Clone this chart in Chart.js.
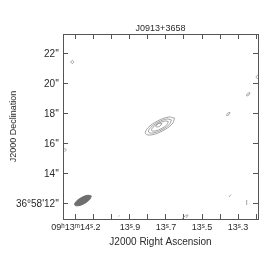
<!DOCTYPE html>
<html>
<head>
<meta charset="utf-8">
<script src="https://cdn.jsdelivr.net/npm/chart.js@4/dist/chart.umd.min.js"></script>
<style>
  html, body { margin: 0; padding: 0; background: #fff; }
  canvas { display: block; }
</style>
</head>
<body>
<canvas id="map" width="275" height="263"></canvas>
<script>
// AXES (RA seconds after 09h13m, Dec arcsec after 36d58m)
const raMin = 13.189, raMax = 14.272;
const decMin = 11.0, decMax = 23.33;
const raTicks = [14.2, 14.1, 14.0, 13.9, 13.8, 13.7, 13.6, 13.5, 13.4, 13.3, 13.2];
const raLabels = ["09ʰ13ᵐ14ˢ.2", "", "", "13ˢ.9", "", "13ˢ.7", "", "13ˢ.5", "", "13ˢ.3", ""];
const decTicks = [12, 14, 16, 18, 20, 22];
const decLabels = ["36°58'12''", "14''", "16''", "18''", "20''", "22''"];

// MAIN SOURCE CONTOURS [ra, dec]
const contour1 = [[13.652, 17.716], [13.666, 17.336], [13.719, 16.876], [13.780, 16.607], [13.814, 16.684], [13.801, 17.064], [13.748, 17.524], [13.686, 17.793], [13.652, 17.716]];
const contour2 = [[13.670, 17.607], [13.681, 17.313], [13.722, 16.953], [13.771, 16.738], [13.797, 16.793], [13.786, 17.087], [13.744, 17.447], [13.696, 17.662], [13.670, 17.607]];
const contour3 = [[13.687, 17.497], [13.695, 17.285], [13.726, 17.023], [13.761, 16.865], [13.780, 16.903], [13.772, 17.115], [13.741, 17.377], [13.706, 17.535], [13.687, 17.497]];
const contour4 = [[13.722, 17.376], [13.735, 17.179], [13.756, 17.157], [13.743, 17.355], [13.722, 17.376]];

// BEAM
const beam = [[14.115, 12.537], [14.123, 12.312], [14.152, 12.041], [14.187, 11.883], [14.207, 11.929], [14.200, 12.155], [14.170, 12.426], [14.135, 12.584], [14.115, 12.537]];

// NOISE BLOBS
const noise = [
  [[14.211, 21.467], [14.219, 21.367], [14.228, 21.467], [14.219, 21.567], [14.211, 21.467]],
  [[13.234, 19.42], [13.239, 19.267], [13.252, 19.207], [13.247, 19.36], [13.234, 19.42]],
  [[13.345, 18.107], [13.35, 17.953], [13.363, 17.893], [13.358, 18.047], [13.345, 18.107]],
  [[13.189, 20.6], [13.2, 20.467], [13.189, 20.333]],
  [[14.267, 15.7], [14.253, 15.613], [14.264, 15.5]],
  [[13.35, 12.467], [13.339, 12.633]],
  [[13.252, 12.267], [13.252, 11.933]],
  [[13.611, 11.0], [13.594, 11.2], [13.578, 11.267], [13.589, 11.067]],
  [[13.964, 11.18], [13.958, 11.22]]
];

const TEXT = "#2a2a2a";
const LINE = "#8a8a8a";
const FRAME = "#555";

function pts(arr) {
  return arr.map(p => ({ x: p[0], y: p[1] }));
}

function contourSet(arr, tension) {
  return {
    data: pts(arr),
    showLine: true,
    borderColor: LINE,
    borderWidth: 0.8,
    pointRadius: 0,
    tension: tension,
    fill: false
  };
}

const datasets = [
  contourSet(contour1, 0.4),
  contourSet(contour2, 0.4),
  contourSet(contour3, 0.4),
  contourSet(contour4, 0.4),
  {
    data: pts(beam),
    showLine: true,
    borderColor: "#6e6e6e",
    backgroundColor: "#6e6e6e",
    borderWidth: 1,
    pointRadius: 0,
    tension: 0.4,
    fill: "shape"
  },
  ...noise.map(n => contourSet(n, 0.4))
];

function setTicks(values) {
  return s => { s.ticks = values.map(v => ({ value: v })); };
}

const gridOpts = {
  display: true,
  drawOnChartArea: false,
  drawTicks: true,
  tickLength: -5,
  color: FRAME,
  lineWidth: 1
};

new Chart(document.getElementById("map"), {
  type: "scatter",
  data: { datasets },
  options: {
    responsive: false,
    animation: false,
    devicePixelRatio: 1,
    layout: { padding: 0 },
    plugins: {
      legend: { display: false },
      tooltip: { enabled: false },
      title: { display: false }
    },
    scales: {
      x: {
        type: "linear",
        position: "bottom",
        reverse: true,
        min: raMin,
        max: raMax,
        afterBuildTicks: setTicks(raTicks),
        afterFit: s => { s.height = 44; },
        grid: gridOpts,
        border: { display: true, color: FRAME, width: 1 },
        ticks: {
          autoSkip: false,
          maxRotation: 0,
          padding: 8,
          color: TEXT,
          font: { family: "Liberation Sans", size: 9 },
          callback: (v, i) => raLabels[i]
        },
        title: {
          display: true,
          text: "J2000 Right Ascension",
          color: TEXT,
          font: { family: "Liberation Sans", size: 10 },
          padding: { top: 0, bottom: 15 }
        }
      },
      x2: {
        type: "linear",
        position: "top",
        reverse: true,
        min: raMin,
        max: raMax,
        afterBuildTicks: setTicks(raTicks),
        afterFit: s => { s.height = 34; },
        grid: gridOpts,
        border: { display: true, color: FRAME, width: 1 },
        ticks: { display: false },
        title: {
          display: true,
          text: "J0913+3658",
          color: TEXT,
          font: { family: "Liberation Sans", size: 9 },
          padding: { top: 23, bottom: 0 }
        }
      },
      y: {
        type: "linear",
        position: "left",
        min: decMin,
        max: decMax,
        afterBuildTicks: setTicks(decTicks),
        afterFit: s => { s.width = 63; },
        grid: gridOpts,
        border: { display: true, color: FRAME, width: 1 },
        ticks: {
          autoSkip: false,
          padding: 9,
          color: TEXT,
          font: { family: "Liberation Sans", size: 10 },
          callback: (v, i) => decLabels[i]
        },
        title: {
          display: true,
          text: "J2000 Declination",
          color: TEXT,
          font: { family: "Liberation Sans", size: 9 },
          padding: { top: 8, bottom: 0 }
        }
      },
      y2: {
        type: "linear",
        position: "right",
        min: decMin,
        max: decMax,
        afterBuildTicks: setTicks(decTicks),
        afterFit: s => { s.width = 17; },
        grid: gridOpts,
        border: { display: true, color: FRAME, width: 1 },
        ticks: { display: false }
      }
    }
  }
});
</script>
</body>
</html>
